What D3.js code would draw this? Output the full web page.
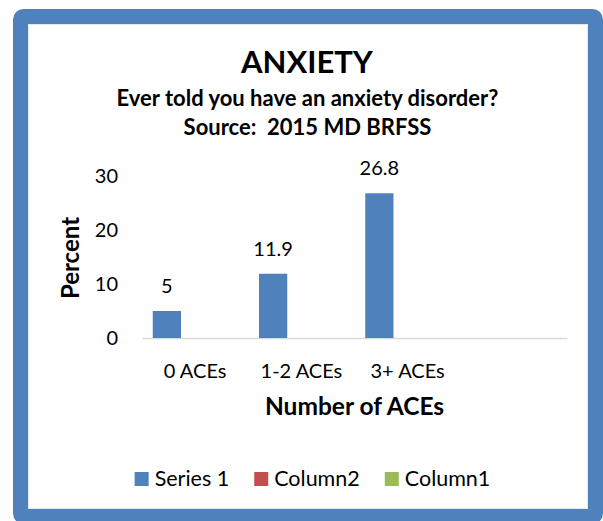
<!DOCTYPE html>
<html>
<head>
<meta charset="utf-8">
<script src="https://cdn.jsdelivr.net/npm/d3@7"></script>
<style>
  html, body { margin: 0; padding: 0; background: #ffffff; }
  svg { display: block; font-family: Lato, "Open Sans", sans-serif; }
  text { white-space: pre; }
</style>
</head>
<body>
<svg id="chart" width="603" height="521"></svg>
<script>
// Chart values
const categories = ["0 ACEs", "1-2 ACEs", "3+ ACEs", ""];
const seriesNames = ["Series 1", "Column2", "Column1"];
const series1 = [5, 11.9, 26.8, null];
const column2 = [null, null, null, null];
const column1 = [null, null, null, null];
const yTicks = [0, 10, 20, 30];
const seriesColors = ["#4F81BD", "#C0504D", "#9BBB59"];

const titleText = "ANXIETY";
const subtitleLines = ["Ever told you have an anxiety disorder?", "Source:  2015 MD BRFSS"];
const xTitle = "Number of ACEs";
const yTitle = "Percent";

const svg = d3.select("#chart");

// Frame: thick blue rounded border with a faint inner rule
svg.append("rect")
  .attr("x", 20.5).attr("y", 16.5)
  .attr("width", 575).attr("height", 500)
  .attr("rx", 3)
  .attr("fill", "#ffffff")
  .attr("stroke", "#4F81BD")
  .attr("stroke-width", 15);
svg.append("rect")
  .attr("x", 28.5).attr("y", 24.5)
  .attr("width", 559).attr("height", 484)
  .attr("fill", "none")
  .attr("stroke", "#E4E8EE")
  .attr("stroke-width", 1);

// Plot area
const plot = { left: 142, right: 567, top: 176, bottom: 338 };

const x0 = d3.scaleBand()
  .domain(categories)
  .range([plot.left, plot.right])
  .paddingInner(0).paddingOuter(0);

const x1 = d3.scaleBand()
  .domain(seriesNames)
  .range([0, x0.bandwidth()])
  .paddingInner(0).paddingOuter(0.38);

const y = d3.scaleLinear()
  .domain([0, 30])
  .range([plot.bottom, plot.top]);

// Titles
svg.append("text")
  .attr("x", 307).attr("y", 73)
  .attr("text-anchor", "middle")
  .attr("font-weight", 700)
  .attr("font-size", 31)
  .attr("fill", "#000")
  .text(titleText);

subtitleLines.forEach((line, i) => {
  svg.append("text")
    .attr("x", 307.5).attr("y", 106 + i * 29)
    .attr("text-anchor", "middle")
    .attr("font-weight", 700)
    .attr("font-size", 22)
    .attr("fill", "#000")
    .text(line);
});

// Y axis (labels only)
const yAxis = svg.append("g")
  .attr("transform", `translate(${plot.left},0)`)
  .call(d3.axisLeft(y).tickValues(yTicks).tickSize(0).tickPadding(24));
yAxis.attr("font-family", null);
yAxis.select(".domain").remove();
yAxis.selectAll("text")
  .attr("font-size", 20)
  .attr("fill", "#000");

// X axis with light baseline
const xAxis = svg.append("g")
  .attr("transform", `translate(0,${plot.bottom})`)
  .call(d3.axisBottom(x0).tickSize(0));
xAxis.attr("font-family", null);
xAxis.select(".domain")
  .attr("stroke", "#D9D9D9")
  .attr("stroke-width", 1.5);
xAxis.selectAll("text")
  .attr("y", 40).attr("dy", 0)
  .attr("font-size", 20)
  .attr("fill", "#000");

// Bars
const seriesData = [series1, column2, column1];
const bars = svg.append("g");
seriesData.forEach((vals, si) => {
  bars.selectAll(null)
    .data(vals.map((v, ci) => ({ cat: categories[ci], v })).filter(d => d.v != null))
    .join("rect")
    .attr("x", d => x0(d.cat) + x1(seriesNames[si]))
    .attr("y", d => y(d.v))
    .attr("width", x1.bandwidth())
    .attr("height", d => y(0) - y(d.v))
    .attr("fill", seriesColors[si]);
});

// Data labels for Series 1
svg.append("g").selectAll("text")
  .data(series1.map((v, ci) => ({ cat: categories[ci], v })).filter(d => d.v != null))
  .join("text")
  .attr("x", d => x0(d.cat) + x1(seriesNames[0]) + x1.bandwidth() / 2)
  .attr("y", d => y(d.v) - 18)
  .attr("text-anchor", "middle")
  .attr("font-size", 20)
  .attr("fill", "#000")
  .text(d => d.v);

// Axis titles
svg.append("text")
  .attr("x", (plot.left + plot.right) / 2).attr("y", 415)
  .attr("text-anchor", "middle")
  .attr("font-weight", 700)
  .attr("font-size", 24.5)
  .attr("fill", "#000")
  .text(xTitle);

svg.append("text")
  .attr("transform", `translate(79,${(plot.top + plot.bottom) / 2 + 1}) rotate(-90)`)
  .attr("text-anchor", "middle")
  .attr("font-weight", 700)
  .attr("font-size", 24)
  .attr("fill", "#000")
  .text(yTitle);

// Legend, laid out from measured label widths and centred
const legend = svg.append("g");
const items = seriesNames.map((name, i) => {
  const g = legend.append("g");
  g.append("rect").attr("width", 14).attr("height", 14).attr("y", -14).attr("fill", seriesColors[i]);
  const t = g.append("text").attr("x", 20).attr("font-size", 21.5).attr("fill", "#000").text(name);
  return { g, w: 20 + t.node().getComputedTextLength() };
});
const gap = 25;
const total = d3.sum(items, d => d.w) + gap * (items.length - 1);
let cx = 312.5 - total / 2;
items.forEach(it => {
  it.g.attr("transform", `translate(${cx},486)`);
  cx += it.w + gap;
});
</script>
</body>
</html>
